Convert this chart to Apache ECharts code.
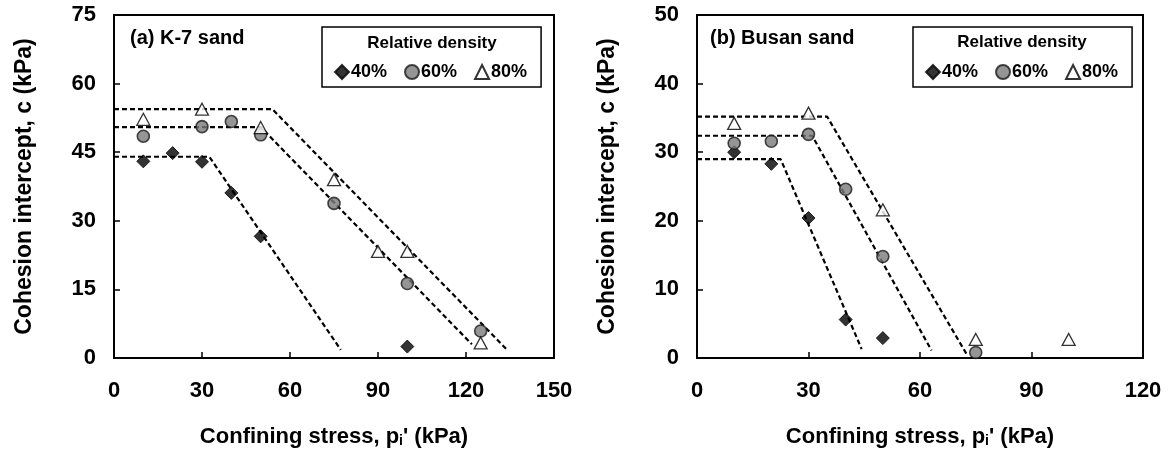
<!DOCTYPE html>
<html>
<head>
<meta charset="utf-8">
<script src="https://cdn.jsdelivr.net/npm/echarts@6/dist/echarts.min.js"></script>
<style>
  html, body { margin: 0; padding: 0; background: #fff; }
  #chart { width: 1169px; height: 453px; }
</style>
</head>
<body>
<div id="chart"></div>
<script>
// K-7 sand, measured points [confining stress, cohesion]
const k7_40 = [[10, 43.0], [20, 44.8], [30, 42.9], [40, 36.1], [50, 26.6], [100, 2.5]];
const k7_60 = [[10, 48.5], [30, 50.6], [40, 51.7], [50, 48.8], [75, 33.8], [100, 16.3], [125, 5.9]];
const k7_80 = [[10, 52.2], [30, 54.4], [50, 50.4], [75, 39.0], [90, 23.3], [100, 23.3], [125, 3.3]];
// K-7 sand, dashed trend lines
const k7Fit40 = [[0, 44.0], [32.5, 44.0], [77.3, 1.8]];
const k7Fit60 = [[0, 50.5], [50, 50.5], [122, 3.0]];
const k7Fit80 = [[0, 54.4], [54, 54.4], [134, 1.8]];

// Busan sand, measured points
const bs40 = [[10, 30.0], [20, 28.3], [30, 20.4], [40, 5.6], [50, 2.9]];
const bs60 = [[10, 31.3], [20, 31.6], [30, 32.6], [40, 24.6], [50, 14.8], [75, 0.8]];
const bs80 = [[10, 34.2], [30, 35.7], [50, 21.6], [75, 2.7], [100, 2.7]];
// Busan sand, dashed trend lines
const bsFit40 = [[0, 29.0], [22.5, 29.0], [44.3, 1.3]];
const bsFit60 = [[0, 32.4], [31, 32.4], [63.1, 1.1]];
const bsFit80 = [[0, 35.2], [35, 35.2], [72.5, 0.6]];

const densities = ['40%', '60%', '80%'];
const panelTitles = ['(a) K-7 sand', '(b) Busan sand'];

const FONT = '"Liberation Sans", Arial, sans-serif';

const markerStyles = {
    '40%': { symbol: 'diamond', symbolSize: 13, itemStyle: { color: '#000', borderColor: '#000', borderWidth: 1 } },
    '60%': { symbol: 'circle', symbolSize: 12, itemStyle: { color: '#7a7a7a', borderColor: '#1a1a1a', borderWidth: 1.6 } },
    '80%': { symbol: 'triangle', symbolSize: [13, 12], itemStyle: { color: '#fff', borderColor: '#000', borderWidth: 1.3 } }
};

function xAxisFor(idx, max) {
    return {
        gridIndex: idx,
        type: 'value',
        min: 0,
        max: max,
        interval: 30,
        name: "Confining stress, p{s|i}' (kPa)",
        nameLocation: 'middle',
        nameGap: 67,
        nameTextStyle: {
            fontFamily: FONT, fontWeight: 'bold', fontSize: 22, color: '#000',
            rich: { s: { fontFamily: FONT, fontWeight: 'bold', fontSize: 14, color: '#000', verticalAlign: 'bottom', padding: [9, 0, 0, 0] } }
        },
        axisLine: { lineStyle: { color: '#000', width: 2 } },
        axisTick: { inside: true, length: 6, lineStyle: { color: '#000', width: 1.5 } },
        axisLabel: { margin: 22, fontFamily: FONT, fontWeight: 'bold', fontSize: 22, color: '#000' },
        splitLine: { show: false }
    };
}

function yAxisFor(idx, max, interval) {
    return {
        gridIndex: idx,
        type: 'value',
        min: 0,
        max: max,
        interval: interval,
        name: 'Cohesion intercept, c (kPa)',
        nameLocation: 'middle',
        nameGap: 78,
        nameTextStyle: { fontFamily: FONT, fontWeight: 'bold', fontSize: 23, color: '#000' },
        axisLine: { lineStyle: { color: '#000', width: 2 } },
        axisTick: { inside: true, length: 6, lineStyle: { color: '#000', width: 1.5 } },
        axisLabel: { margin: 18, fontFamily: FONT, fontWeight: 'bold', fontSize: 22, color: '#000' },
        splitLine: { show: false }
    };
}

function fitSeries(idx, data) {
    return {
        type: 'line',
        name: 'fit',
        xAxisIndex: idx,
        yAxisIndex: idx,
        data: data,
        symbol: 'none',
        silent: true,
        lineStyle: { color: '#000', width: 2.2, type: [5, 3] },
        z: 2
    };
}

function pointSeries(idx, name, data) {
    return {
        type: 'scatter',
        name: name,
        xAxisIndex: idx,
        yAxisIndex: idx,
        data: data,
        clip: false,
        ...markerStyles[name],
        z: 5
    };
}

function legendFor(left) {
    return {
        data: densities,
        left: left,
        top: 27,
        orient: 'horizontal',
        padding: [36, 14, 6, 12],
        itemGap: 17,
        itemWidth: 14,
        itemHeight: 14,
        backgroundColor: '#fff',
        borderColor: '#000',
        borderWidth: 1.5,
        selectedMode: false,
        textStyle: { fontFamily: FONT, fontWeight: 'bold', fontSize: 18, color: '#000', padding: [0, 0, 0, -3] }
    };
}

function textEl(x, y, text, size, align) {
    return {
        type: 'text',
        x: x,
        y: y,
        z: 100,
        style: {
            text: text,
            fill: '#000',
            font: 'bold ' + size + 'px ' + FONT,
            align: align,
            verticalAlign: 'middle'
        }
    };
}

let chartDom = document.getElementById('chart');
let myChart = echarts.init(chartDom, null, { renderer: 'canvas' });

let series = [
    fitSeries(0, k7Fit40), fitSeries(0, k7Fit60), fitSeries(0, k7Fit80),
    fitSeries(1, bsFit40), fitSeries(1, bsFit60), fitSeries(1, bsFit80),
    pointSeries(0, '40%', k7_40), pointSeries(0, '60%', k7_60), pointSeries(0, '80%', k7_80),
    pointSeries(1, '40%', bs40), pointSeries(1, '60%', bs60), pointSeries(1, '80%', bs80)
];

let option = {
    animation: false,
    backgroundColor: '#fff',
    grid: [
        { left: 114, top: 15, width: 440, height: 343, show: true, borderColor: '#000', borderWidth: 2, backgroundColor: 'transparent' },
        { left: 697, top: 15, width: 446, height: 344, show: true, borderColor: '#000', borderWidth: 2, backgroundColor: 'transparent' }
    ],
    xAxis: [xAxisFor(0, 150), xAxisFor(1, 120)],
    yAxis: [yAxisFor(0, 75, 15), yAxisFor(1, 50, 10)],
    legend: [legendFor(322), legendFor(913)],
    graphic: [
        textEl(130, 38, panelTitles[0], 20, 'left'),
        textEl(710, 38, panelTitles[1], 20, 'left'),
        textEl(432, 43, 'Relative density', 17, 'center'),
        textEl(1022, 42, 'Relative density', 17, 'center')
    ],
    series
};

option && myChart.setOption(option);
</script>
</body>
</html>
